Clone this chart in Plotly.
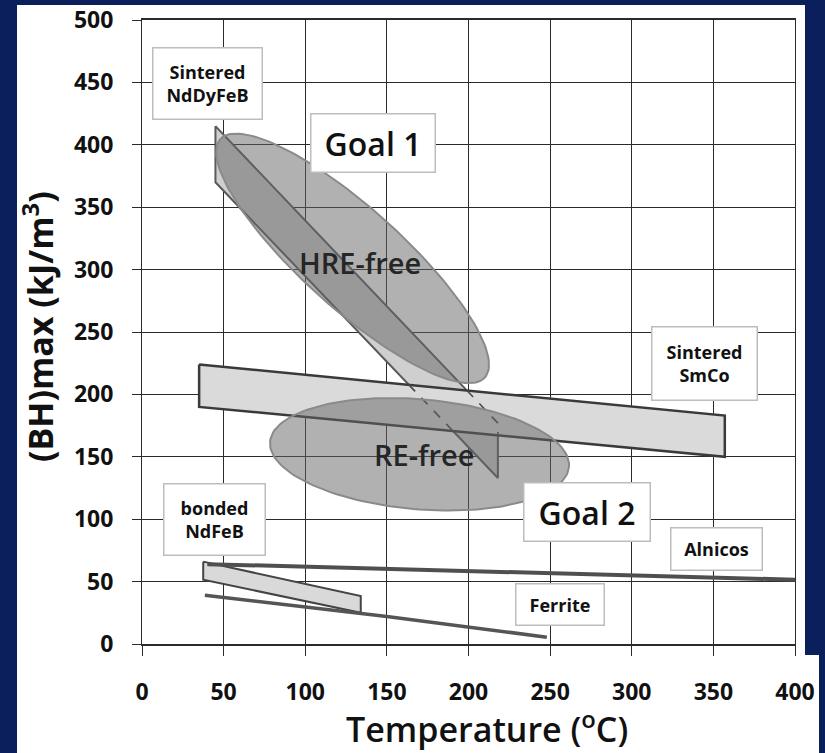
import numpy as np
import plotly.graph_objects as go

# ---- magnet families: (temperature in degC, (BH)max in kJ/m3) ----
nddyfeb_T = [45, 218, 218, 45]
nddyfeb_BH = [415, 177, 133, 370]

smco_T = [35, 357, 357, 35]
smco_BH = [224, 183, 150, 190]

bonded_T = [37.5, 134, 134, 37.5]
bonded_BH = [66, 38.5, 25, 51.5]

alnico_T = [40, 400]
alnico_BH = [64, 51.5]

ferrite_T = [38.5, 150, 248]
ferrite_BH = [39, 22, 5.5]

# goal regions: centre (T, BH)
hre_free_center = [129, 309]
re_free_center = [170, 152]

x_ticks = [0, 50, 100, 150, 200, 250, 300, 350, 400]
y_ticks = [0, 50, 100, 150, 200, 250, 300, 350, 400, 450, 500]

# ---- figure geometry ----
W, H = 825, 753
ML, MR, MT, MB = 142, 30, 20, 109
PW, PH = W - ML - MR, H - MT - MB
KX = PW / 400.0   # px per degC
KY = PH / 500.0   # px per kJ/m3

NAVY = "#0b1f5c"
FONT = "Open Sans"


def ellipse(center, a_px, b_px, angle_deg, n=160):
    """Rotated ellipse drawn in screen space, returned in data units."""
    t = np.linspace(0, 2 * np.pi, n)
    th = np.radians(angle_deg)
    dx = a_px * np.cos(t) * np.cos(th) - b_px * np.sin(t) * np.sin(th)
    dy = a_px * np.cos(t) * np.sin(th) + b_px * np.sin(t) * np.cos(th)
    return center[0] + dx / KX, center[1] - dy / KY


def intersect(p1, p2, q1, q2):
    """Intersection point of segment p1-p2 with line q1-q2."""
    (x1, y1), (x2, y2) = p1, p2
    (x3, y3), (x4, y4) = q1, q2
    d = (x1 - x2) * (y3 - y4) - (y1 - y2) * (x3 - x4)
    t = ((x1 - x3) * (y3 - y4) - (y1 - y3) * (x3 - x4)) / d
    return x1 + t * (x2 - x1), y1 + t * (y2 - y1)


def closed(xs, ys):
    return list(xs) + [xs[0]], list(ys) + [ys[0]]


fig = go.Figure()

# sintered NdDyFeB band (drawn first, partly hidden by SmCo)
x, y = closed(nddyfeb_T, nddyfeb_BH)
fig.add_trace(go.Scatter(x=x, y=y, mode="lines", fill="toself",
                         fillcolor="#cfcfcf",
                         line=dict(color="#5a5a5a", width=2)))

# sintered SmCo band
x, y = closed(smco_T, smco_BH)
fig.add_trace(go.Scatter(x=x, y=y, mode="lines", fill="toself",
                         fillcolor="#dadada",
                         line=dict(color="#3a3a3a", width=2.5)))

# hidden NdDyFeB edges inside the SmCo band, dashed
nd = list(zip(nddyfeb_T, nddyfeb_BH))
sm = list(zip(smco_T, smco_BH))
sm_top = (sm[0], sm[1])
sm_bot = (sm[3], sm[2])
up_in = intersect(nd[0], nd[1], *sm_top)
lo_in = intersect(nd[3], nd[2], *sm_top)
lo_out = intersect(nd[3], nd[2], *sm_bot)
right_out = intersect(nd[1], nd[2], *sm_bot)
dash_x = [up_in[0], nd[1][0], right_out[0], None, lo_in[0], lo_out[0]]
dash_y = [up_in[1], nd[1][1], right_out[1], None, lo_in[1], lo_out[1]]
fig.add_trace(go.Scatter(x=dash_x, y=dash_y, mode="lines",
                         line=dict(color="#4a4a4a", width=1.6, dash="dash")))

# goal ellipses
for c, a, b, ang in [(hre_free_center, 178, 50, 42),
                     (re_free_center, 150, 55, 4.8)]:
    ex, ey = ellipse(c, a, b, ang)
    fig.add_trace(go.Scatter(x=ex, y=ey, mode="lines", fill="toself",
                             fillcolor="rgba(100,100,100,0.5)",
                             line=dict(color="#8a8a8a", width=2)))

# bonded NdFeB band
x, y = closed(bonded_T, bonded_BH)
fig.add_trace(go.Scatter(x=x, y=y, mode="lines", fill="toself",
                         fillcolor="#d9d9d9",
                         line=dict(color="#444444", width=2)))

# Alnico and ferrite lines
fig.add_trace(go.Scatter(x=alnico_T, y=alnico_BH, mode="lines",
                         line=dict(color="#4f4f4f", width=4)))
fig.add_trace(go.Scatter(x=ferrite_T, y=ferrite_BH, mode="lines",
                         line=dict(color="#555555", width=3.5)))

# ---- labels ----
def box(text, x, y, w, h, size, weight="bold"):
    fig.add_annotation(x=x, y=y, xref="x", yref="y", text=text,
                       showarrow=False, width=w, height=h,
                       bgcolor="white", bordercolor="#bdbdbd",
                       borderwidth=1.5, borderpad=0,
                       font=dict(family=FONT, size=size, color="#111111",
                                 weight=weight))

box("Sintered<br>NdDyFeB", 40.1, 449.1, 108, 70, 18)
box("Goal 1", 141.5, 401.4, 123, 57, 32, 600)
box("Sintered<br>SmCo", 344.4, 224.4, 104, 72, 18)
box("Goal 2", 272.5, 105.4, 125, 57, 32, 600)
box("Alnicos", 351.9, 76.4, 90, 41, 18)
box("Ferrite", 256.1, 31.3, 87, 40, 18)
box("bonded<br>NdFeB", 44.5, 99.4, 100, 70, 18)

for text, x, y in [("HRE-free", 133.6, 306), ("RE-free", 172.8, 152)]:
    fig.add_annotation(x=x, y=y, text=text, showarrow=False,
                       font=dict(family=FONT, size=29, color="#262626",
                                 weight=600))

# axis titles
fig.add_annotation(xref="paper", yref="paper", x=(487 - ML) / PW,
                   y=(H - MB - 727) / PH, text="Temperature (<sup>o</sup>C)",
                   showarrow=False, xanchor="center", yanchor="middle",
                   font=dict(family=FONT, size=34, color="#111111",
                             weight=600))
fig.add_annotation(xref="paper", yref="paper", x=(38 - ML) / PW,
                   y=(H - MB - 327) / PH, text="(BH)max (kJ/m<sup>3</sup>)",
                   showarrow=False, textangle=-90, xanchor="center",
                   yanchor="middle",
                   font=dict(family=FONT, size=34, color="#111111",
                             weight="bold"))

# white panel on the navy frame
def px_to_paper(px, py):
    return (px - ML) / PW, (H - MB - py) / PH

x0, y1 = px_to_paper(17, 5)
x1, y0 = px_to_paper(805, 753)
fig.add_shape(type="rect", xref="paper", yref="paper", x0=x0, x1=x1,
              y0=y0 - 0.02, y1=y1, fillcolor="white", line_width=0,
              layer="below")
xa, ya = px_to_paper(819, 655)
fig.add_shape(type="rect", xref="paper", yref="paper", x0=x1 - 0.01, x1=xa,
              y0=y0 - 0.02, y1=ya, fillcolor="white", line_width=0,
              layer="below")

tick_font = dict(family=FONT, size=23, color="#111111", weight="bold")
fig.update_layout(
    width=W, height=H,
    margin=dict(l=ML, r=MR, t=MT, b=MB, autoexpand=False),
    paper_bgcolor=NAVY, plot_bgcolor="white",
    showlegend=False,
    xaxis=dict(range=[0, 400], tickvals=x_ticks, showgrid=True,
               gridcolor="#2b2b2b", gridwidth=1, zeroline=False,
               showline=True, linecolor="#2b2b2b", linewidth=2, mirror=True,
               ticks="outside", ticklen=10, tickcolor="#2b2b2b",
               ticklabelstandoff=16, ticklabeloverflow="allow",
               automargin=False, tickfont=tick_font),
    yaxis=dict(range=[0, 500], tickvals=y_ticks, showgrid=True,
               gridcolor="#2b2b2b", gridwidth=1, zeroline=False,
               showline=True, linecolor="#2b2b2b", linewidth=1, mirror=True,
               ticks="outside", ticklen=9, tickcolor="#2b2b2b",
               ticklabelstandoff=14, ticklabeloverflow="allow",
               automargin=False, tickfont=tick_font),
)

fig.write_html("out.html")
